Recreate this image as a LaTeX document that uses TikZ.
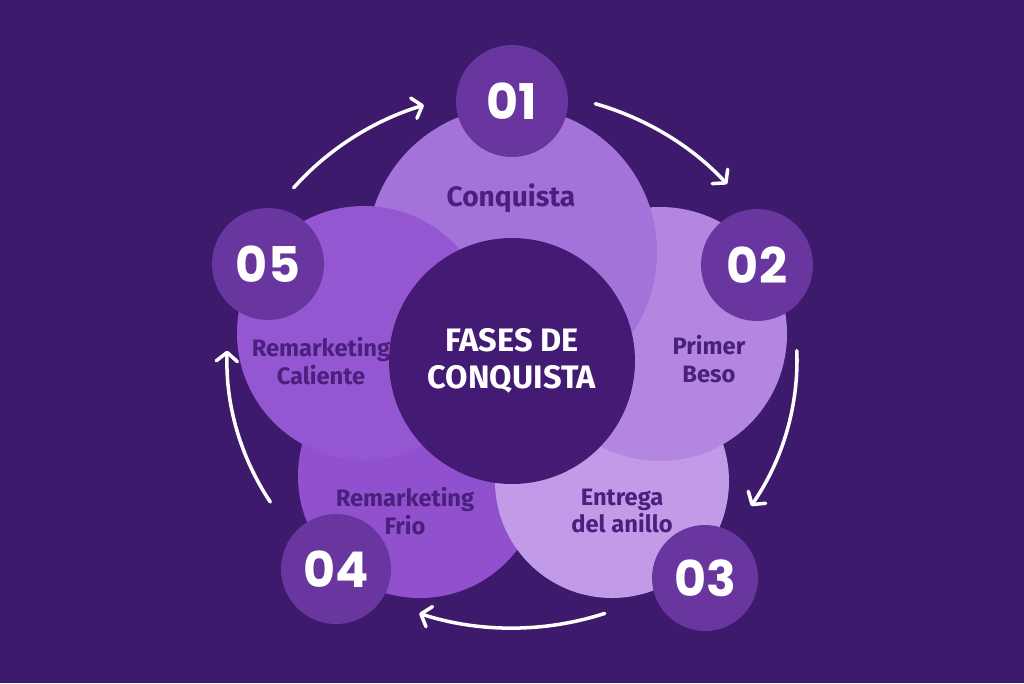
\documentclass[tikz,border=0pt]{standalone}
\usepackage{fontspec}
\setmainfont{Poppins}
\newfontfamily\labelfont{Fira Sans}[UprightFont={* SemiBold}, BoldFont={* Bold}]
\usepackage{tikz}
\usetikzlibrary{%
	arrows.meta,%
	calc%
}

\definecolor{bgpurple}{HTML}{3E1A6D}
\definecolor{hubpurple}{HTML}{431B74}
\definecolor{numpurple}{HTML}{69369F}
\definecolor{textpurple}{HTML}{4A1F7E}
\definecolor{petalone}{HTML}{A373D9}
\definecolor{petaltwo}{HTML}{B386E2}
\definecolor{petalthree}{HTML}{C29BE8}
\definecolor{petalfour}{HTML}{9150CD}
\definecolor{petalfive}{HTML}{9556D2}

\tikzset{
	numdisc/.style={circle, fill=numpurple, inner sep=0pt, minimum size=2.24cm,
		text=white, font=\fontsize{28}{30}\selectfont\bfseries},
	phaselabel/.style={align=center, text=textpurple,
		font=\labelfont\bfseries\fontsize{13.5}{15.5}\selectfont},
	flowarrow/.style={white, line width=2pt, line cap=round,
		-{Straight Barb[length=5pt, width=12pt, round]}}
}

\begin{document}
\begin{tikzpicture}[x=0.02cm, y=-0.02cm]
				% Background
				\fill[bgpurple] (0,0) rectangle (1024,683);
				\useasboundingbox (0,0) rectangle (1024,683);
				
				% Petals
				\foreach \px/\py/\pr/\pc in {420/476/122/petalfour, 612/481/117/petalthree,
					660/334/127/petaltwo, 512/252/145/petalone, 364/333/127/petalfive}
				\fill[\pc] (\px,\py) circle (\pr);
				
				% Hub
				\node[circle, fill=hubpurple, minimum size=4.92cm, inner sep=0pt,
					align=center, text=white,
					font=\labelfont\bfseries\fontsize{18.5}{21}\selectfont] (hub) at (512,361)
					{FASES DE\\CONQUISTA};
				
				% Phase labels
				\node[phaselabel, font=\labelfont\bfseries\fontsize{16}{18}\selectfont] (l1) at (511,198) {Conquista};
				\node[phaselabel] (l2) at (709,359) {Primer\\Beso};
				\node[phaselabel] (l3) at (622,511) {Entrega\\del anillo};
				\node[phaselabel] (l4) at (405,511) {Remarketing\\Frio};
				\node[phaselabel] (l5) at (321,361) {Remarketing\\Caliente};
				
				% Numbers
				\node[numdisc] (n1) at (512,101) {01};
				\node[numdisc] (n2) at (757,265) {02};
				\node[numdisc, minimum size=2.12cm] (n3) at (705,578) {03};
				\node[numdisc, minimum size=2.2cm] (n4) at (336,569) {04};
				\node[numdisc] (n5) at (268,264) {05};
				
				% Cycle arrows
				\coordinate (ring) at (512,360);
				\foreach \sa/\ea in {-140/-108, -73/-41, -2/33, 71/109, 148/182}
				\draw[flowarrow] ([shift={(\sa:285 and 268)}]ring)
					arc[start angle=\sa, end angle=\ea, x radius=285, y radius=268];
			\end{tikzpicture}
\end{document}
